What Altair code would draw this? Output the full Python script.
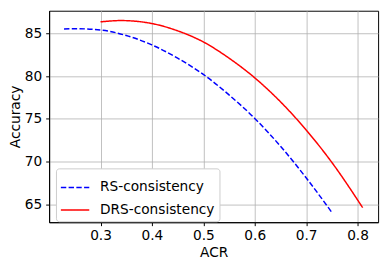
import altair as alt
import pandas as pd

rs_x = [0.229, 0.25, 0.30, 0.35, 0.40, 0.45, 0.50, 0.55, 0.60, 0.65, 0.70, 0.75]
rs_y = [85.52, 85.55, 85.40, 84.75, 83.65, 82.10, 80.20, 77.80, 75.05, 71.80, 68.10, 64.05]
drs_x = [0.30, 0.34, 0.40, 0.45, 0.50, 0.55, 0.60, 0.65, 0.70, 0.75, 0.81]
drs_y = [86.35, 86.50, 86.15, 85.30, 84.00, 82.10, 79.80, 77.00, 73.70, 69.90, 64.60]

names = ["RS-consistency", "DRS-consistency"]

rows = []
for i, (x, y) in enumerate(zip(rs_x, rs_y)):
    rows.append({"series": names[0], "ACR": x, "Accuracy": y, "o": i})
for i, (x, y) in enumerate(zip(drs_x, drs_y)):
    rows.append({"series": names[1], "ACR": x, "Accuracy": y, "o": i})
df = pd.DataFrame(rows)

font = "DejaVu Sans"

chart = alt.Chart(df).mark_line(strokeWidth=1.5, interpolate="monotone").encode(
    x=alt.X("ACR:Q", title="ACR",
            scale=alt.Scale(domain=[0.2, 0.84], nice=False, zero=False),
            axis=alt.Axis(values=[0.3, 0.4, 0.5, 0.6, 0.7, 0.8], format=".1f")),
    y=alt.Y("Accuracy:Q", title="Accuracy",
            scale=alt.Scale(domain=[62.9, 87.65], nice=False, zero=False),
            axis=alt.Axis(values=[65, 70, 75, 80, 85])),
    color=alt.Color("series:N", scale=alt.Scale(domain=names, range=["#0000ff", "#ff0000"]),
                    legend=alt.Legend(title=None, orient="none", legendX=7, legendY=161,
                                      symbolType="stroke", symbolSize=841, symbolStrokeWidth=1.5,
                                      labelFontSize=14, labelFont=font, labelColor="#000000",
                                      labelOffset=10, rowPadding=0,
                                      strokeColor="#cccccc", fillColor="#ffffff",
                                      padding=4, cornerRadius=3)),
    strokeDash=alt.StrokeDash("series:N", scale=alt.Scale(domain=names, range=[[5.5, 2.4], [1, 0]]),
                              legend=None),
    order="o:Q",
).properties(
    width=336, height=216,
    autosize=alt.AutoSizeParams(type="none"),
    padding={"left": 42, "top": 0, "right": 5, "bottom": 46},
).configure_view(
    stroke="#000000", strokeWidth=1
).configure_axis(
    grid=True, gridColor="#b0b0b0", gridWidth=0.8,
    domainColor="#000000", tickColor="#000000", tickSize=3.5,
    labelFont=font, labelFontSize=14, labelColor="#000000",
    titleFont=font, titleFontSize=14, titleFontWeight="normal", titleColor="#000000",
).configure_axisX(
    labelPadding=3, titlePadding=4,
).configure_axisY(
    labelPadding=4, titlePadding=2,
)

chart.save("out.html", embed_options={"renderer": "svg", "actions": False})
